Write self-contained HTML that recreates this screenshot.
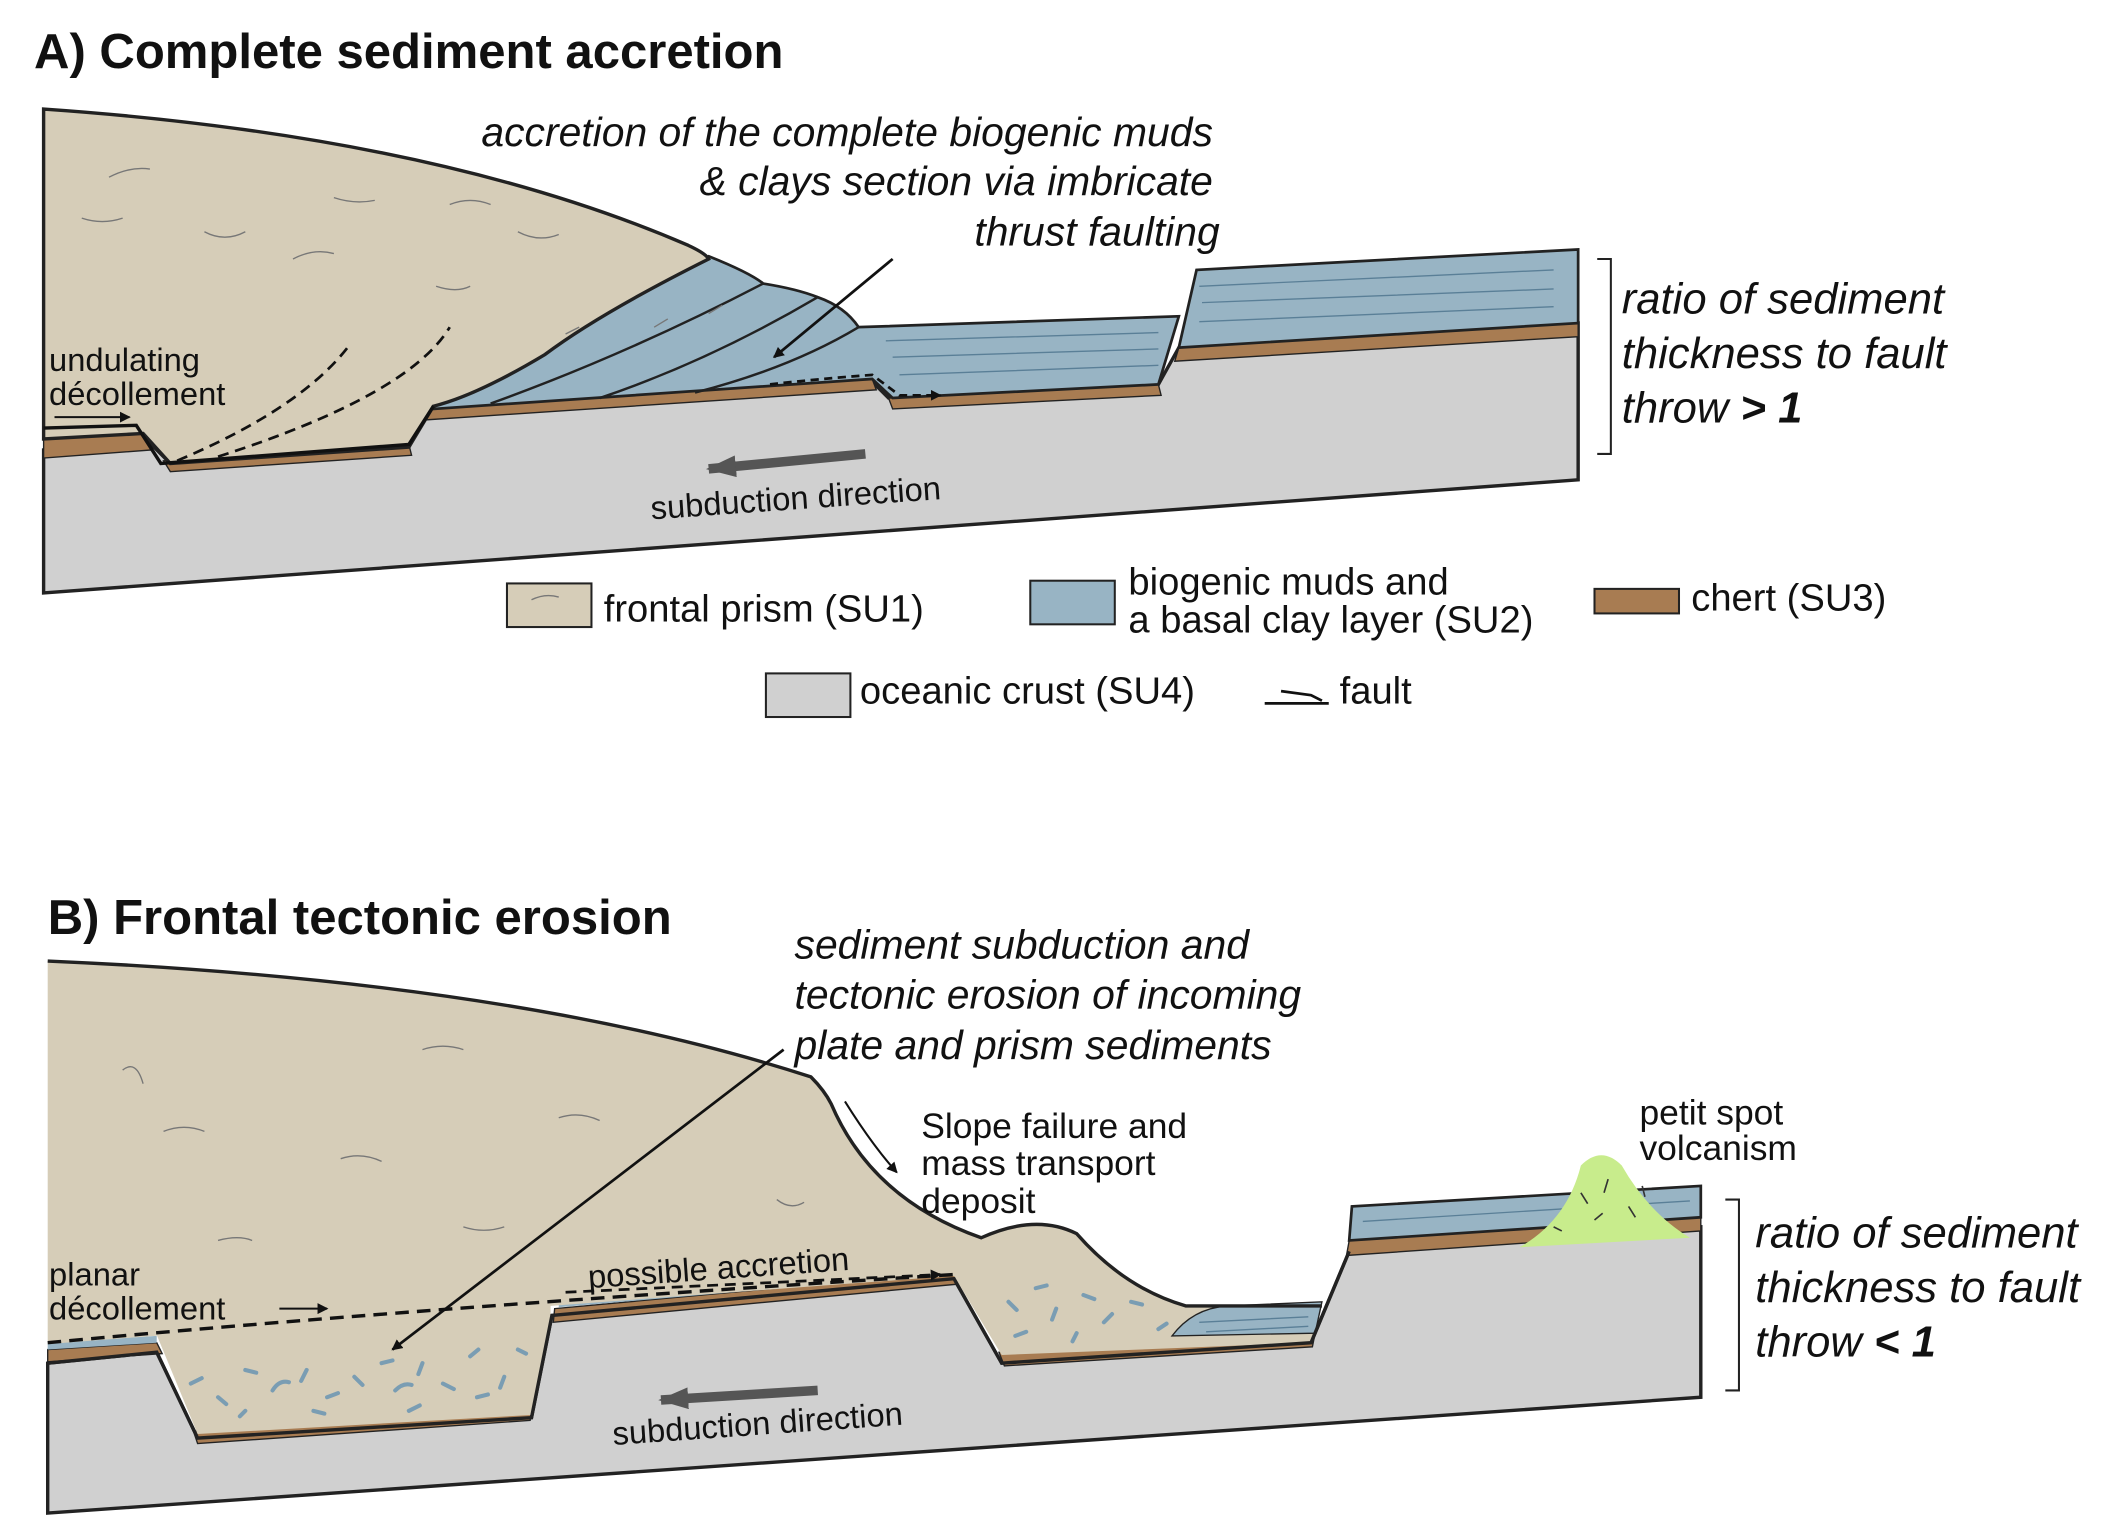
<!DOCTYPE html>
<html><head><meta charset="utf-8"><style>
html,body{margin:0;padding:0;background:#fff}
svg{display:block}
text{font-family:"Liberation Sans",sans-serif;fill:#111}
.it{font-style:italic}
</style></head><body>
<svg width="2126" height="1539" viewBox="0 0 1560 1129" preserveAspectRatio="none" xmlns="http://www.w3.org/2000/svg">
<defs>
<marker id="ah" markerWidth="8" markerHeight="8" refX="7" refY="4" orient="auto" markerUnits="userSpaceOnUse"><path d="M0,0 L8,4 L0,8 z" fill="#111"/></marker>
<marker id="ag" markerWidth="22" markerHeight="16" refX="20" refY="8" orient="auto" markerUnits="userSpaceOnUse"><path d="M0,0 L22,8 L0,16 z" fill="#555"/></marker>
</defs>
<!-- PANEL A -->
<text x="25" y="50" font-size="36" font-weight="bold">A) Complete sediment accretion</text>
<path d="M32,435 L32,330 L105,320 L125,340 L300,328 L315,300 L640,280 L652,292 L850,282 L865,255 L1158,237 L1158,352 Z" fill="#d0d0d0" stroke="#222" stroke-width="2.5"/>
<path d="M32,322 L105,316 L112,330 L32,336 Z" fill="#a87c52" stroke="#222" stroke-width="1"/>
<path d="M120,338 L300,326 L302,334 L125,346 Z" fill="#a87c52" stroke="#222" stroke-width="1"/>
<path d="M315,300 L640,278 L643,286 L313,308 Z" fill="#a87c52" stroke="#222" stroke-width="1"/>
<path d="M652,292 L850,282 L852,290 L655,300 Z" fill="#a87c52" stroke="#222" stroke-width="1"/>
<path d="M865,255 L1158,237 L1158,247 L862,265 Z" fill="#a87c52" stroke="#222" stroke-width="1"/>
<path d="M865,255 L878,198 L1158,183 L1158,237 Z" fill="#98b4c4" stroke="#222" stroke-width="2"/>
<path d="M880,210 L1140,198 M882,222 L1140,212 M880,236 L1140,225" stroke="#5a7f97" stroke-width="1" fill="none"/>
<path d="M318,298 Q420,240 520,188 Q550,200 560,208 Q585,212 600,218 Q620,225 630,240 L865,232 L850,282 L655,292 L640,278 L318,300 Z" fill="#98b4c4" stroke="#222" stroke-width="2"/>
<path d="M360,296 Q460,260 560,208 M440,292 Q520,265 600,218 M510,288 Q580,270 630,240" stroke="#222" stroke-width="1.8" fill="none"/>
<path d="M650,250 L850,244 M655,262 L850,256 M660,275 L850,268" stroke="#5a7f97" stroke-width="1" fill="none"/>
<path d="M565,282 Q600,278 640,275 L660,290 L690,290" stroke="#111" stroke-width="2" stroke-dasharray="6,4" fill="none" marker-end="url(#ah)"/>
<path d="M32,80 Q320,100 505,180 Q518,186 520,190 Q440,230 400,260 Q350,290 318,298 L300,328 L125,340 L105,318 L32,322 Z" fill="#d6cdb8" stroke="#222" stroke-width="2.5"/>
<path d="M130,338 Q220,300 255,255 M160,335 Q300,290 330,240" stroke="#111" stroke-width="2" stroke-dasharray="8,5" fill="none"/>
<path d="M32,314 L100,312 L118,340 L300,326 L318,298" stroke="#111" stroke-width="2.5" fill="none"/>
<path d="M40,306 L95,306" stroke="#111" stroke-width="1.5" marker-end="url(#ah)"/>
<g stroke="#777" stroke-width="1" fill="none">
<path d="M80,130 q15,-8 30,-6"/><path d="M60,160 q15,5 30,0"/><path d="M150,170 q15,8 30,0"/><path d="M215,190 q15,-8 30,-4"/><path d="M245,145 q15,5 30,2"/><path d="M330,150 q15,-6 30,0"/><path d="M380,170 q15,8 30,2"/><path d="M320,210 q15,5 25,0"/><path d="M415,245 l10,-5"/><path d="M480,240 l10,-6"/><path d="M520,230 l10,-6"/></g>
<text x="890" y="107" font-size="30" class="it" text-anchor="end">accretion of the complete biogenic muds</text>
<text x="890" y="143" font-size="30" class="it" text-anchor="end">&amp; clays section via imbricate</text>
<text x="895" y="180" font-size="30" class="it" text-anchor="end">thrust faulting</text>
<path d="M655,190 L568,262" stroke="#111" stroke-width="2" marker-end="url(#ah)"/>
<text x="36" y="272" font-size="24">undulating</text>
<text x="36" y="297" font-size="24">décollement</text>
<path d="M635,333 L520,344" stroke="#555" stroke-width="7" marker-end="url(#ag)"/>
<text x="478" y="381" font-size="24" transform="rotate(-4 478 381)">subduction direction</text>
<path d="M1172,190 h10 v143 h-10" stroke="#222" stroke-width="1.5" fill="none"/>
<text x="1190" y="230" font-size="32" class="it">ratio of sediment</text>
<text x="1190" y="270" font-size="32" class="it">thickness to fault</text>
<text x="1190" y="310" font-size="32" class="it">throw <tspan font-weight="bold">&gt; 1</tspan></text>
<rect x="372" y="428" width="62" height="32" fill="#d6cdb8" stroke="#222" stroke-width="1.5"/>
<path d="M390,440 q10,-5 20,-2" stroke="#777" fill="none"/>
<text x="443" y="456" font-size="28">frontal prism (SU1)</text>
<rect x="756" y="426" width="62" height="32" fill="#98b4c4" stroke="#222" stroke-width="1.5"/>
<text x="828" y="436" font-size="28">biogenic muds and</text>
<text x="828" y="464" font-size="28">a basal clay layer (SU2)</text>
<rect x="1170" y="432" width="62" height="18" fill="#a87c52" stroke="#222" stroke-width="1.5"/>
<text x="1241" y="448" font-size="28">chert (SU3)</text>
<rect x="562" y="494" width="62" height="32" fill="#d0d0d0" stroke="#222" stroke-width="1.5"/>
<text x="631" y="516" font-size="28">oceanic crust (SU4)</text>
<path d="M928,516 L975,516 M940,507 L962,510 L970,514" stroke="#111" stroke-width="2" fill="none"/>
<text x="983" y="516" font-size="28">fault</text>

<!-- PANEL B -->
<text x="35" y="685" font-size="36" font-weight="bold">B) Frontal tectonic erosion</text>
<path d="M35,1110 L35,1000 L115,992 L145,1055 L390,1040 L405,965 L700,938 L735,1000 L962,985 L990,918 L1248,900 L1248,1025 Z" fill="#d0d0d0" stroke="#222" stroke-width="2.5"/>
<path d="M35,990 L115,985 L119,993 L35,999 Z" fill="#a87c52" stroke="#222" stroke-width="1"/>
<path d="M142,1050 L390,1034 L389,1042 L145,1059 Z" fill="#a87c52" stroke="#222" stroke-width="1"/>
<path d="M407,960 L700,933 L703,942 L406,970 Z" fill="#a87c52" stroke="#222" stroke-width="1"/>
<path d="M733,992 L965,978 L963,988 L737,1002 Z" fill="#a87c52" stroke="#222" stroke-width="1"/>
<path d="M990,910 L1248,893 L1248,903 L988,921 Z" fill="#a87c52" stroke="#222" stroke-width="1"/>
<path d="M990,910 L992,885 L1248,870 L1248,893 Z" fill="#98b4c4" stroke="#222" stroke-width="2"/>
<path d="M1000,896 L1240,881" stroke="#5a7f97" stroke-width="1"/>
<path d="M35,985 L115,980 L115,985 L35,990 Z" fill="#98b4c4"/>
<path d="M410,955 L700,930 L700,934 L410,959 Z" fill="#98b4c4"/>
<!-- left graben fill -->
<path d="M112,972 L404,946 L404,965 L390,1038 L145,1052 Z" fill="#d6cdb8"/>
<!-- prism B -->
<path d="M35,705 Q380,720 595,790 Q605,800 610,810 Q640,880 720,908 Q760,890 790,905 Q825,945 870,958 L968,958 L962,985 L735,994 L700,936 Q400,958 35,986 Z" fill="#d6cdb8"/>
<path d="M860,980 Q875,960 900,958 L970,955 L965,978 Z" fill="#98b4c4" stroke="#222" stroke-width="1"/>
<path d="M880,970 L960,966 M885,977 L960,973" stroke="#5a7f97" stroke-width="1"/>
<path d="M35,705 Q380,720 595,790 Q605,800 610,810 Q640,880 720,908 Q760,890 790,905 Q825,945 870,958 L970,958" stroke="#222" stroke-width="2.5" fill="none"/>
<path d="M35,1000 L115,992 L145,1055 L390,1040 L405,965 L700,938 L735,1000 L962,985 L990,918" stroke="#222" stroke-width="2.5" fill="none"/>
<g stroke="#7a9db3" stroke-width="3" fill="none" stroke-linecap="round">
<path d="M140,1015 l8,-4"/><path d="M160,1025 l6,5"/><path d="M180,1005 l8,2"/><path d="M200,1020 q5,-8 12,-6"/><path d="M225,1005 l-4,8"/><path d="M240,1025 l8,-3"/><path d="M260,1010 l6,6"/><path d="M280,1000 l8,-2"/><path d="M290,1020 q6,-6 12,-4"/><path d="M310,1000 l-3,8"/><path d="M325,1015 l8,4"/><path d="M345,995 l6,-5"/><path d="M350,1025 l8,-2"/><path d="M370,1010 l-3,8"/><path d="M380,990 l6,3"/><path d="M230,1035 l8,2"/><path d="M300,1035 l8,-4"/><path d="M180,1035 l-4,4"/>
<path d="M740,955 l6,6"/><path d="M760,945 l8,-2"/><path d="M775,960 l-3,8"/><path d="M795,950 l8,3"/><path d="M810,970 l6,-6"/><path d="M830,955 l8,2"/><path d="M745,980 l8,-3"/><path d="M790,978 l-3,6"/><path d="M850,975 l6,-4"/></g>
<path d="M35,985 Q300,960 700,935" stroke="#111" stroke-width="2.5" stroke-dasharray="10,6" fill="none"/>
<path d="M415,948 L690,935" stroke="#111" stroke-width="2" stroke-dasharray="8,5" fill="none" marker-end="url(#ah)"/>
<path d="M205,960 L240,960" stroke="#111" stroke-width="1.5" marker-end="url(#ah)"/>
<g stroke="#777" stroke-width="1" fill="none">
<path d="M90,785 q10,-8 15,10"/><path d="M120,830 q15,-6 30,0"/><path d="M310,770 q15,-5 30,0"/><path d="M250,850 q15,-5 30,2"/><path d="M410,820 q15,-5 30,2"/><path d="M340,900 q15,5 30,0"/><path d="M570,880 q10,8 20,2"/><path d="M160,910 q15,-4 25,0"/></g>
<path d="M1115,915 Q1150,895 1160,855 Q1175,840 1190,855 Q1210,890 1240,908 Z" fill="#c8ec8c" stroke="none"/>
<g stroke="#333" stroke-width="1.2" fill="none"><path d="M1160,875 l5,8"/><path d="M1180,865 l-3,10"/><path d="M1195,885 l5,8"/><path d="M1170,895 l6,-5"/><path d="M1140,900 l6,3"/><path d="M1205,870 l2,8"/></g>
<text x="583" y="703" font-size="30" class="it">sediment subduction and</text>
<text x="583" y="740" font-size="30" class="it">tectonic erosion of incoming</text>
<text x="583" y="777" font-size="30" class="it">plate and prism sediments</text>
<path d="M575,770 L288,990" stroke="#111" stroke-width="2" marker-end="url(#ah)"/>
<text x="676" y="835" font-size="26">Slope failure and</text>
<text x="676" y="862" font-size="26">mass transport</text>
<text x="676" y="890" font-size="26">deposit</text>
<path d="M620,808 Q640,840 658,860" stroke="#111" stroke-width="1.5" fill="none" marker-end="url(#ah)"/>
<text x="1203" y="825" font-size="26">petit spot</text>
<text x="1203" y="851" font-size="26">volcanism</text>
<text x="36" y="943" font-size="24">planar</text>
<text x="36" y="968" font-size="24">décollement</text>
<text x="432" y="945" font-size="24" transform="rotate(-4 432 945)">possible accretion</text>
<path d="M600,1020 L485,1027" stroke="#555" stroke-width="7" marker-end="url(#ag)"/>
<text x="450" y="1060" font-size="24" transform="rotate(-4 450 1060)">subduction direction</text>
<path d="M1266,880 h10 v140 h-10" stroke="#222" stroke-width="1.5" fill="none"/>
<text x="1288" y="915" font-size="32" class="it">ratio of sediment</text>
<text x="1288" y="955" font-size="32" class="it">thickness to fault</text>
<text x="1288" y="995" font-size="32" class="it">throw <tspan font-weight="bold">&lt; 1</tspan></text>
</svg>
</body></html>
